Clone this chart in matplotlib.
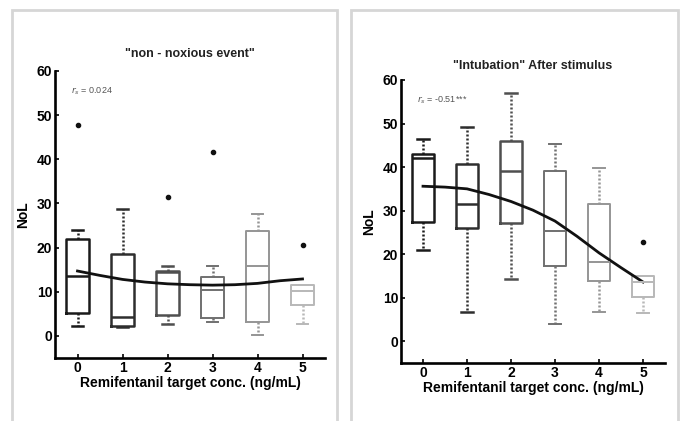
import numpy as np
import matplotlib.pyplot as plt
from matplotlib.patches import Rectangle

plt.rcParams['font.family'] = ['Liberation Sans', 'DejaVu Sans']

# data
conc = [0, 1, 2, 3, 4, 5]

# "non - noxious event"
nn_whislo = [2.3, 2.0, 2.7, 3.1, 0.2, 2.6]
nn_q1 = [5.2, 2.3, 4.75, 4.1, 3.1, 7.1]
nn_med = [13.5, 4.2, 14.5, 10.4, 15.9, 10.1]
nn_q3 = [22.0, 18.6, 14.8, 13.3, 23.7, 11.6]
nn_whishi = [23.9, 28.8, 15.9, 15.9, 27.5, 11.6]
nn_fliers = [[47.8], [], [31.5], [41.7], [], [20.5]]
nn_fit_x = [0, 0.5, 1, 1.5, 2, 2.5, 3, 3.5, 4, 4.5, 5]
nn_fit_y = [14.7, 13.7, 12.8, 12.2, 11.8, 11.6, 11.5, 11.6, 11.9, 12.5, 12.9]

# "Intubation" after stimulus
it_whislo = [21.0, 6.6, 14.2, 3.9, 6.6, 6.4]
it_q1 = [27.4, 26.0, 27.2, 17.2, 13.9, 10.2]
it_med = [42.1, 31.6, 39.2, 25.3, 18.3, 13.7]
it_q3 = [43.0, 40.8, 46.0, 39.1, 31.5, 15.0]
it_whishi = [46.4, 49.2, 56.9, 45.4, 39.8, 15.0]
it_fliers = [[], [], [], [], [], [22.7]]
it_fit_x = [0, 0.5, 1, 1.5, 2, 2.5, 3, 3.5, 4, 4.5, 5]
it_fit_y = [35.6, 35.4, 35.0, 33.7, 32.1, 30.1, 27.6, 24.1, 20.3, 16.9, 13.6]

box_colors = ['#1a1a1a', '#2e2e2e', '#4f4f4f', '#707070', '#959595', '#b8b8b8']


def draw_panel(ax, whislo, q1, med, q3, whishi, fliers, fit_x, fit_y, title, rs_text, title_y):
    stats = []
    for i in range(len(conc)):
        stats.append(dict(whislo=whislo[i], q1=q1[i], med=med[i], q3=q3[i],
                          whishi=whishi[i], fliers=fliers[i]))
    parts = ax.bxp(stats, positions=conc, widths=0.5, capwidths=0.26,
                   showfliers=True, patch_artist=False)
    for i, c in enumerate(box_colors):
        lw = 1.8 if i < 3 else 1.4
        parts['boxes'][i].set(color=c, linewidth=lw)
        parts['medians'][i].set(color=c, linewidth=lw)
        for w in parts['whiskers'][2 * i:2 * i + 2]:
            w.set(color=c, linestyle=(0, (0.8, 0.8)), linewidth=1.8)
        for cp in parts['caps'][2 * i:2 * i + 2]:
            cp.set(color=c, linewidth=lw)
        parts['fliers'][i].set(marker='o', markersize=3, markerfacecolor='#111111',
                               markeredgecolor='#111111')
    ax.plot(fit_x, fit_y, color='#111111', linewidth=2)

    ax.set_xlim(-0.5, 5.5)
    ax.set_ylim(-5, 60)
    ax.set_xticks(conc)
    ax.set_yticks([0, 10, 20, 30, 40, 50, 60])
    ax.spines['top'].set_visible(False)
    ax.spines['right'].set_visible(False)
    for s in ['left', 'bottom']:
        ax.spines[s].set_linewidth(1.9)
    ax.tick_params(direction='in', length=3, width=1.2, labelsize=10, pad=2)
    for lab in ax.get_xticklabels() + ax.get_yticklabels():
        lab.set_fontweight('bold')
    ax.set_xlabel('Remifentanil target conc. (ng/mL)', fontsize=10, fontweight='bold', labelpad=1)
    ax.set_ylabel('NoL', fontsize=10, fontweight='bold', labelpad=5)
    ax.text(0.5, title_y, title, transform=ax.transAxes, ha='center', va='bottom',
            fontsize=9, fontweight='bold', color='#222222')
    ax.text(0.06, 0.93, rs_text, transform=ax.transAxes, ha='left', va='center',
            fontsize=6.5, color='#555555')


fig = plt.figure(figsize=(6.83, 4.21), dpi=100)

# panel frames
for x0, x1 in [(12, 337), (351, 678)]:
    fig.patches.append(Rectangle((x0 / 683, -0.05), (x1 - x0) / 683, 1 - 10 / 421 + 0.05,
                                 transform=fig.transFigure, fill=False,
                                 edgecolor='#d6d6d6', linewidth=2))

ax1 = fig.add_axes([55 / 683, 1 - 358 / 421, 270 / 683, 287 / 421])
draw_panel(ax1, nn_whislo, nn_q1, nn_med, nn_q3, nn_whishi, nn_fliers,
           nn_fit_x, nn_fit_y, '"non - noxious event"', r'$r_s$ = 0.024', 1.04)

ax2 = fig.add_axes([401 / 683, 1 - 363 / 421, 264 / 683, 283 / 421])
draw_panel(ax2, it_whislo, it_q1, it_med, it_q3, it_whishi, it_fliers,
           it_fit_x, it_fit_y, '"Intubation" After stimulus', r'$r_s$ = -0.51***', 1.03)

fig.savefig('out.png', dpi=100)
